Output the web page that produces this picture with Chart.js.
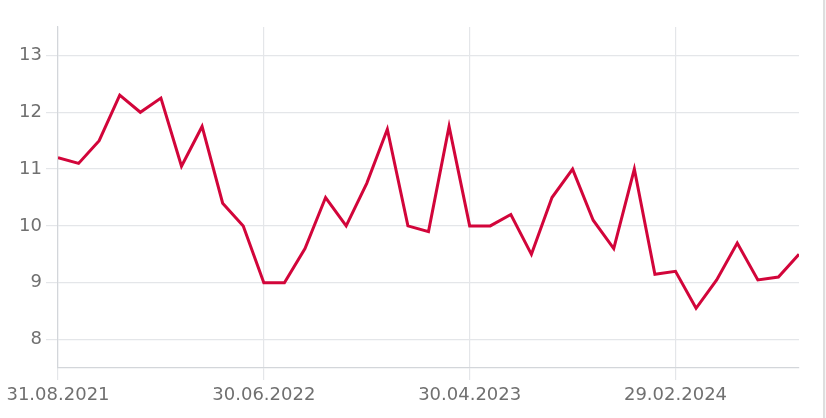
<!DOCTYPE html>
<html>
<head>
<meta charset="utf-8">
<script src="https://cdn.jsdelivr.net/npm/chart.js@4/dist/chart.umd.min.js"></script>
<style>
  html, body { margin: 0; padding: 0; background: #fff; }
  #wrap { width: 826px; height: 418px; position: relative; }
  #edge { position: absolute; left: 823px; top: 0; width: 3px; height: 418px;
          border-left: 2px solid #dedede; background: #f6f6f6; box-sizing: border-box; }
</style>
</head>
<body>
<div id="wrap"><canvas id="chart1" width="826" height="418"></canvas><div id="edge"></div></div>
<script>
// month-end dates, one per point
var dates = [
    '31.08.2021', '30.09.2021', '31.10.2021', '30.11.2021', '31.12.2021',
    '31.01.2022', '28.02.2022', '31.03.2022', '30.04.2022', '31.05.2022',
    '30.06.2022', '31.07.2022', '31.08.2022', '30.09.2022', '31.10.2022',
    '30.11.2022', '31.12.2022', '31.01.2023', '28.02.2023', '31.03.2023',
    '30.04.2023', '31.05.2023', '30.06.2023', '31.07.2023', '31.08.2023',
    '30.09.2023', '31.10.2023', '30.11.2023', '31.12.2023', '31.01.2024',
    '29.02.2024', '31.03.2024', '30.04.2024', '31.05.2024', '30.06.2024',
    '31.07.2024', '31.08.2024'
];
var values = [
    11.2, 11.1, 11.5, 12.3, 12.0, 12.25, 11.05, 11.75, 10.4, 10.0,
    9.0, 9.0, 9.6, 10.5, 10.0, 10.75, 11.7, 10.0, 9.9, 11.75,
    10.0, 10.0, 10.2, 9.5, 10.5, 11.0, 10.1, 9.6, 11.0, 9.15,
    9.2, 8.55, 9.05, 9.7, 9.05, 9.1, 9.5
];
var yTicks = [8, 9, 10, 11, 12, 13];
var xTicks = [0, 10, 20, 30];
var yMin = 7.5, yMax = 13.5;

var points = values.map(function(v, i){ return {x: i, y: v}; });

const ctx1 = document.getElementById('chart1').getContext('2d');
var fontSpec = {family: 'DejaVu Sans', size: 18};

var graphData1 = {
    type: 'line',
    data: {
        datasets: [{
            data: points,
            borderColor: '#d2053a',
            borderWidth: 3,
            pointRadius: 0,
            tension: 0,
            fill: false
        }]
    },
    options: {
        responsive: false,
        animation: false,
        layout: {padding: {top: 27, right: 27, bottom: 0, left: 0}},
        plugins: {legend: {display: false}, tooltip: {enabled: false}},
        scales: {
            x: {
                type: 'linear',
                min: 0,
                max: dates.length - 1,
                afterBuildTicks: function(scale){
                    scale.ticks = xTicks.map(function(v){ return {value: v}; });
                },
                afterFit: function(scale){ scale.height = 50; },
                grid: {color: '#e4e6e9', lineWidth: 1.2, tickLength: 12},
                border: {color: '#d3d6da', width: 1.2},
                ticks: {
                    autoSkip: false,
                    maxRotation: 0,
                    color: '#707070',
                    font: fontSpec,
                    padding: 5,
                    callback: function(v){ return dates[v]; }
                }
            },
            y: {
                min: yMin,
                max: yMax,
                afterBuildTicks: function(scale){
                    scale.ticks = yTicks.map(function(v){ return {value: v}; });
                },
                grid: {color: '#e4e6e9', lineWidth: 1.2, tickLength: 12},
                border: {color: '#d3d6da', width: 1.2},
                ticks: {
                    color: '#707070',
                    font: fontSpec,
                    padding: 4
                },
                afterFit: function(scale){ scale.width = 58; }
            }
        }
    }
};

const chart1 = new Chart(ctx1, graphData1);
</script>
</body>
</html>
